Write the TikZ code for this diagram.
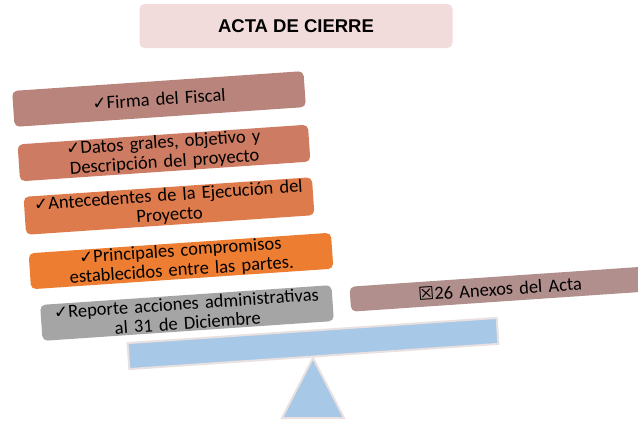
\documentclass[tikz,border=0pt]{standalone}
\usepackage{fontspec}
\setmainfont{Carlito}
\newfontfamily\titlefont{Liberation Sans}
\newfontfamily\symfont{DejaVu Sans}
\definecolor{titlefill}{HTML}{F2DCDB}
\definecolor{cA}{HTML}{B9847B}
\definecolor{cB}{HTML}{CD7B62}
\definecolor{cC}{HTML}{DD7B4C}
\definecolor{cD}{HTML}{ED7D31}
\definecolor{cE}{HTML}{A5A5A5}
\definecolor{cF}{HTML}{B08F8C}
\definecolor{beamfill}{HTML}{A7C8E6}
\definecolor{beamline}{HTML}{E9E0E0}
\newcommand{\chk}{\smash{\symfont\fontsize{17}{17}\selectfont ✓}}
\begin{document}
\begin{tikzpicture}[x=1pt,y=-1pt,
  itembox/.style={rounded corners=5pt, rotate=3.9, inner xsep=2pt, inner ysep=0pt,
    align=center, font=\fontsize{18.5}{19.5}\selectfont, text=black},
  seesaw/.style={fill=beamfill, draw=beamline, line width=2pt}]
\clip (0,0) rectangle (638,421);
\useasboundingbox (0,0) rectangle (638,421);
\node[fill=titlefill, rounded corners=5pt, minimum width=313pt, minimum height=44pt,
  font=\titlefont\bfseries\fontsize{18.5}{20}\selectfont] (title) at (296,26) {ACTA DE CIERRE};
\node[itembox, fill=cA, minimum width=292pt, minimum height=36pt, text width=285pt] (b1) at (159,99) {\chk Firma del Fiscal};
\node[itembox, fill=cB, minimum width=291pt, minimum height=37pt, text width=285pt] (b2) at (164,153) {\chk Datos grales, objetivo y\\Descripción del proyecto};
\node[itembox, fill=cC, minimum width=288pt, minimum height=38pt, text width=285pt] (b3) at (169,206) {\chk Antecedentes de la Ejecución del\\Proyecto};
\node[itembox, fill=cD, minimum width=303pt, minimum height=36pt, text width=295pt] (b4) at (181,261) {\chk Principales compromisos\\establecidos entre las partes.};
\node[itembox, fill=cE, minimum width=292pt, minimum height=36pt, text width=285pt] (b5) at (187,313) {\chk Reporte acciones administrativas\\al 31 de Diciembre};
\node[itembox, fill=cF, minimum width=300pt, minimum height=25pt, text width=295pt] (b6) at (500,289) {\smash{\symfont\fontsize{18}{18}\selectfont ☒}26 Anexos del Acta};
\node[seesaw, rotate=3.9, minimum width=370pt, minimum height=26pt, inner sep=0pt] (beam) at (313,343.5) {};
\coordinate (apex) at (313,358);
\coordinate (bl) at (282,418);
\coordinate (br) at (344,418);
\draw[seesaw, line join=miter] (apex) -- (br) -- (bl) -- cycle;
\end{tikzpicture}
\end{document}
